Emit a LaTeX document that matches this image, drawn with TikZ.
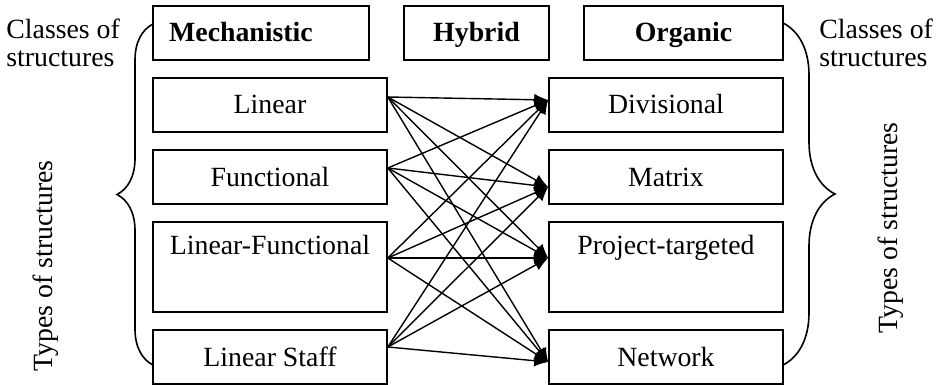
\documentclass[tikz,border=0pt]{standalone}
\usepackage{fontspec}
\setmainfont{Liberation Serif}
\usetikzlibrary{arrows.meta,decorations.pathreplacing}

\begin{document}
\begin{tikzpicture}[x=0.5pt,y=-0.5pt,
    >={Latex[length=7pt,width=6pt]},
    every node/.style={font=\fontsize{13.9}{14}\selectfont},
    box/.style={rectangle, draw, line width=0.8pt,
                minimum width=117pt, minimum height=27pt,
                text height=11pt, text depth=2pt},
    tallbox/.style={box, minimum height=45pt},
    classtxt/.style={font=\fontsize{13.9}{14}\selectfont\bfseries},
    link/.style={->, line width=0.7pt},
    bracket/.style={line width=0.8pt, decorate}]

    \useasboundingbox (0,0) rectangle (938,385);

    % classes of structures
    \node[box, minimum width=108pt] (mech) at (261,33) {};
    \node[classtxt, anchor=base] (mech-txt) at (241,42) {Mechanistic};

    \node[box, classtxt, minimum width=72.5pt] (hyb) at (476.5,33) {Hybrid};

    \node[box, classtxt, minimum width=99.5pt] (org) at (683.5,33) {Organic};

    % mechanistic types
    \node[box] (lin) at (270,105) {Linear};
    \node[box] (fun) at (270,177) {Functional};
    \node[tallbox] (linfun) at (270,267) {};
    \node[anchor=base] (linfun-txt) at (270,255) {Linear-Functional};
    \node[box] (staff) at (270,357) {Linear Staff};

    % organic types
    \node[box] (div) at (666,105) {Divisional};
    \node[box] (mat) at (666,177) {Matrix};
    \node[tallbox] (proj) at (666,267) {};
    \node[anchor=base] (proj-txt) at (666,255) {Project-targeted};
    \node[box] (net) at (666,357) {Network};

    % side labels
    \node[anchor=north west, align=left, inner sep=0pt] (cls-l) at (6,19) {Classes of\\structures};
    \node[anchor=north west, align=left, inner sep=0pt] (cls-r) at (819,19) {Classes of\\structures};
    \node[rotate=90, anchor=base] (types-l) at (53,266) {Types of structures};
    \node[rotate=90, anchor=base] (types-r) at (897,228) {Types of structures};

    % braces
    \draw[bracket, decoration={brace, amplitude=18pt}] (153,365) -- (153,24);
    \draw[bracket, decoration={brace, amplitude=26pt}] (783,23) -- (783,365);

    % ends of the links
    \coordinate (lin-out) at ([yshift=4pt]lin.east);
    \coordinate (fun-out) at ([yshift=4.5pt]fun.east);
    \coordinate (linfun-out) at ([yshift=4.5pt]linfun.east);
    \coordinate (staff-out) at ([yshift=5pt]staff.east);
    \coordinate (div-in) at ([yshift=2.5pt]div.west);
    \coordinate (mat-in) at ([yshift=-5pt]mat.west);
    \coordinate (proj-in) at ([yshift=4.5pt]proj.west);
    \coordinate (net-in) at ([yshift=-2.5pt]net.west);

    \foreach \src in {lin,fun,linfun,staff}
        \foreach \dst in {div,mat,proj,net}
            \draw[link] (\src-out) -- (\dst-in);

\end{tikzpicture}
\end{document}
